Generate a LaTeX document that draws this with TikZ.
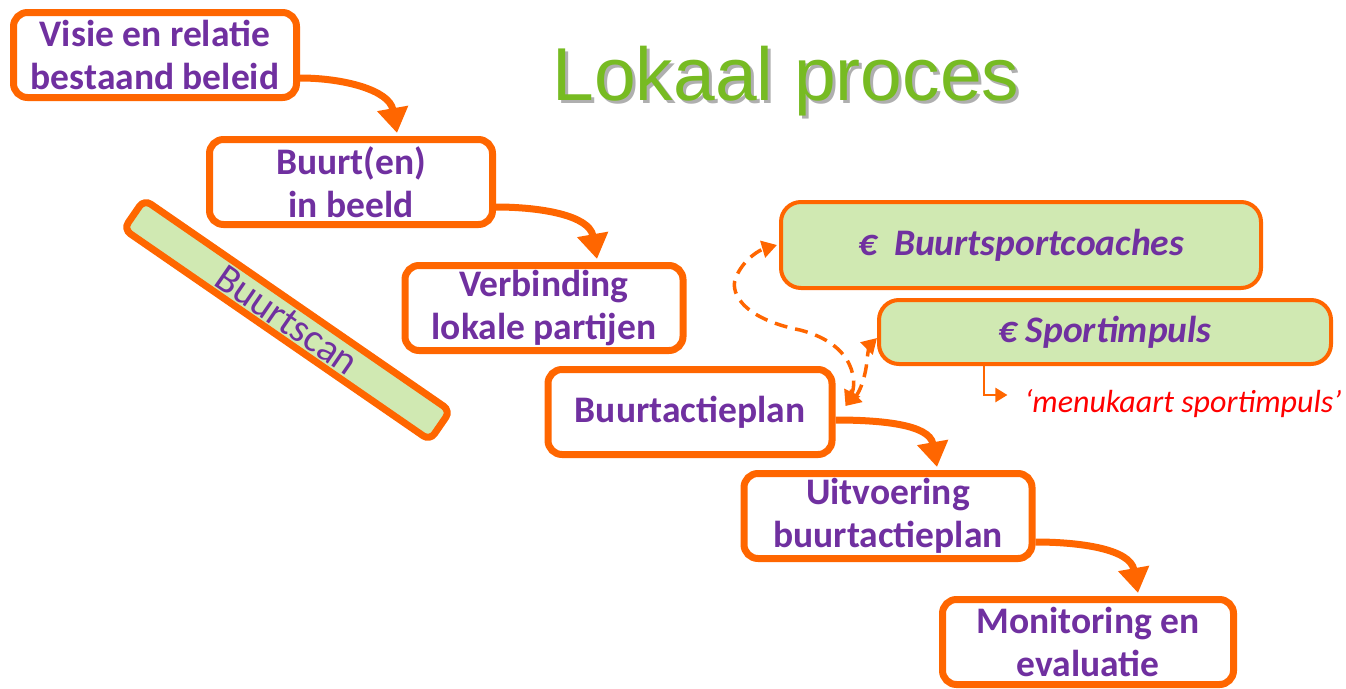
\documentclass[tikz,border=0pt]{standalone}
\usepackage{fontspec}
\setmainfont{Carlito}
\newfontfamily\titlefont{Liberation Sans}
\usetikzlibrary{arrows.meta}
\definecolor{org}{RGB}{255,102,0}
\definecolor{pur}{RGB}{112,48,160}
\definecolor{lgreen}{RGB}{208,233,178}
\definecolor{tgreen}{RGB}{119,187,34}
\definecolor{shd}{RGB}{175,175,175}
\definecolor{redtxt}{RGB}{255,0,0}
\begin{document}
\begin{tikzpicture}[x=1pt,y=1pt,
 stepbox/.style={draw=org, line width=7pt, fill=white, rounded corners=14pt,
   minimum width=283pt, minimum height=85pt, inner sep=0pt, align=center,
   text=pur, font=\fontsize{37.5}{43}\selectfont\bfseries},
 fundbox/.style={draw=org, line width=4pt, fill=lgreen, rounded corners=20pt,
   inner sep=0pt, text=pur, font=\fontsize{37.5}{42}\selectfont\bfseries\itshape},
 flow/.style={draw=org, line width=7pt, -{Triangle[width=30pt,length=25pt]}},
 link/.style={draw=org, line width=3.5pt, dash pattern=on 13pt off 8pt,
   {Triangle[width=17pt,length=15pt]}-{Triangle[width=17pt,length=15pt]}},
 titlestyle/.style={font=\titlefont\fontsize{75}{75}\selectfont, anchor=base},
]
\useasboundingbox (0,0) rectangle (1346,-688);
\fill[white] (0,0) rectangle (1346,-688);

% title
\node[titlestyle, text=shd] (titleshadow) at (789,-103) {Lokaal proces};
\node[titlestyle, text=tgreen] (title) at (786,-100) {Lokaal proces};

% Buurtscan
\node[draw=org, line width=7pt, fill=lgreen, rounded corners=8pt,
  minimum width=372pt, minimum height=36pt, inner sep=0pt, rotate=-34.6,
  text=pur, font=\fontsize{40}{40}\selectfont] (scan) at (287,-320) {Buurtscan};

% process steps
\node[stepbox] (b1) at (155,-55) {Visie en relatie\\bestaand beleid};
\node[stepbox] (b2) at (351,-182) {Buurt(en)\\in beeld};
\node[stepbox, minimum width=278pt] (b3) at (544,-308) {Verbinding\\lokale partijen};
\node[stepbox, minimum width=284pt] (b4) at (690,-412) {Buurtactieplan};
\node[stepbox, minimum width=288pt] (b5) at (888,-516) {Uitvoering\\buurtactieplan};
\node[stepbox, minimum width=291pt] (b6) at (1088,-642) {Monitoring en\\evaluatie};

% funding boxes
\node[fundbox, minimum width=480pt, minimum height=86pt] (gsc) at (1021,-245) {€\ \ Buurtsportcoaches};
\node[fundbox, minimum width=452pt, minimum height=64pt] (gsp) at (1105,-332) {€ Sportimpuls};

% label
\node[text=redtxt, font=\fontsize{32}{32}\selectfont\itshape, inner sep=0pt] (lbl) at (1183,-404) {‘menukaart sportimpuls’};

% flow arrows
\draw[flow] ([yshift=-23pt]b1.east) to[out=0,in=100] ([xshift=46pt,yshift=3pt]b2.north);
\draw[flow] ([yshift=-25pt]b2.east) to[out=0,in=100] ([xshift=53pt,yshift=3pt]b3.north);
\draw[flow] ([yshift=-8pt]b4.east) to[out=0,in=100] ([xshift=49pt,yshift=3pt]b5.north);
\draw[flow] ([yshift=-26pt]b5.east) to[out=0,in=100] ([xshift=50pt,yshift=3pt]b6.north);

% dashed links
\draw[link] ([xshift=10pt,yshift=6pt]b4.east) .. controls (856,-385) and (858,-345) .. (800,-330)
  .. controls (740,-318) and (728,-290) .. (737,-275)
  .. controls (745,-258) and (760,-250) .. ([xshift=-2pt]gsc.west);
\draw[link] ([xshift=10pt,yshift=6pt]b4.east) .. controls (860,-392) and (866,-375) .. (867,-360)
  .. controls (868,-350) and (870,-345) .. ([yshift=-6pt]gsp.west);

% label arrow
\draw[org, line width=2.5pt, -{Triangle[width=14pt,length=12pt]}]
  ([xshift=-121pt]gsp.south) |- ([xshift=-17pt,yshift=9pt]lbl.west);
\end{tikzpicture}
\end{document}
